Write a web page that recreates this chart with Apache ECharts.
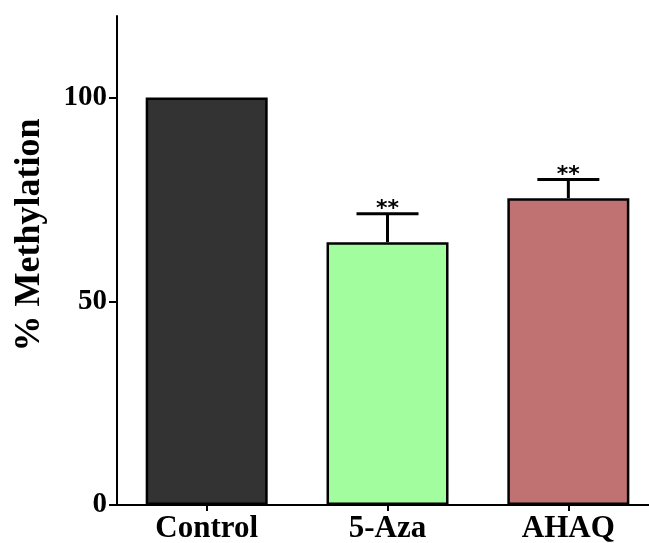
<!DOCTYPE html>
<html>
<head>
<meta charset="utf-8">
<script src="https://cdn.jsdelivr.net/npm/echarts@6/dist/echarts.min.js"></script>
<style>html,body{margin:0;padding:0;background:#fff}#c{width:649px;height:543px}</style>
</head>
<body>
<div id="c"></div>
<script>
var categories = ['Control', '5-Aza', 'AHAQ'];
var means = [100, 64.5, 75.3];
var errors = [0, 7.0, 4.6];
var signif = ['', '**', '**'];
var barColors = ['#333333', '#a2fd9e', '#c07272'];
var yTicks = [0, 50, 100];
var catPositions = [0, 1, 2];

var FONT = '"Liberation Serif", "Times New Roman", serif';
var chart = echarts.init(document.getElementById('c'));

var errData = categories.map(function (c, i) { return [catPositions[i], means[i], errors[i]]; });

chart.setOption({
  animation: false,
  backgroundColor: '#ffffff',
  grid: { left: 117, top: 16, right: 0, bottom: 38, containLabel: false, outerBoundsMode: 'none' },
  xAxis: {
    type: 'value',
    min: -0.496, max: 2.446,
    splitLine: { show: false },
    axisLine: { show: true, onZero: false, lineStyle: { color: '#000', width: 2 } },
    axisTick: { show: true, length: 6, lineStyle: { color: '#000', width: 2 }, customValues: catPositions },
    axisLabel: { color: '#000', fontFamily: FONT, fontWeight: 'bold', fontSize: 31, margin: 8,
      customValues: catPositions,
      formatter: function (v) { return categories[Math.round(v)] || ''; } }
  },
  yAxis: {
    type: 'value',
    min: 0, max: 120, interval: 50,
    splitLine: { show: false },
    axisLine: { show: true, onZero: false, lineStyle: { color: '#000', width: 2 } },
    axisTick: { show: true, length: 8, lineStyle: { color: '#000', width: 2 },
      customValues: yTicks },
    axisLabel: { color: '#000', fontFamily: FONT, fontWeight: 'bold', fontSize: 29, margin: 10,
      customValues: yTicks }
  },
  graphic: [{
    type: 'text',
    x: 30, y: 235,
    rotation: Math.PI / 2,
    style: {
      text: '% Methylation',
      fill: '#000',
      font: 'bold 36px ' + FONT,
      textAlign: 'center',
      textVerticalAlign: 'middle'
    }
  }],
  series: [{
    type: 'bar',
    barWidth: 122,
    data: means.map(function (v, i) {
      return { value: [catPositions[i], v], itemStyle: { color: barColors[i] } };
    }),
    itemStyle: { borderColor: '#000', borderWidth: 2.5 },
    z: 2
  }, {
    type: 'custom',
    z: 1,
    data: errData,
    renderItem: function (params, api) {
      var idx = api.value(0);
      var m = api.value(1);
      var e = api.value(2);
      if (!e) return null;
      var base = api.coord([idx, m]);
      var top = api.coord([idx, m + e]);
      var half = 31;
      var label = signif[params.dataIndex];
      return {
        type: 'group',
        children: [
          { type: 'line', shape: { x1: base[0], y1: base[1], x2: top[0], y2: top[1] },
            style: { stroke: '#000', lineWidth: 3 } },
          { type: 'line', shape: { x1: top[0] - half, y1: top[1], x2: top[0] + half, y2: top[1] },
            style: { stroke: '#000', lineWidth: 3 } },
          { type: 'text', x: top[0], y: top[1] + 7,
            style: { text: label, fill: '#000', font: 'bold 22px "DejaVu Sans", sans-serif',
              textAlign: 'center', textVerticalAlign: 'bottom' } }
        ]
      };
    }
  }]
});
</script>
</body>
</html>
